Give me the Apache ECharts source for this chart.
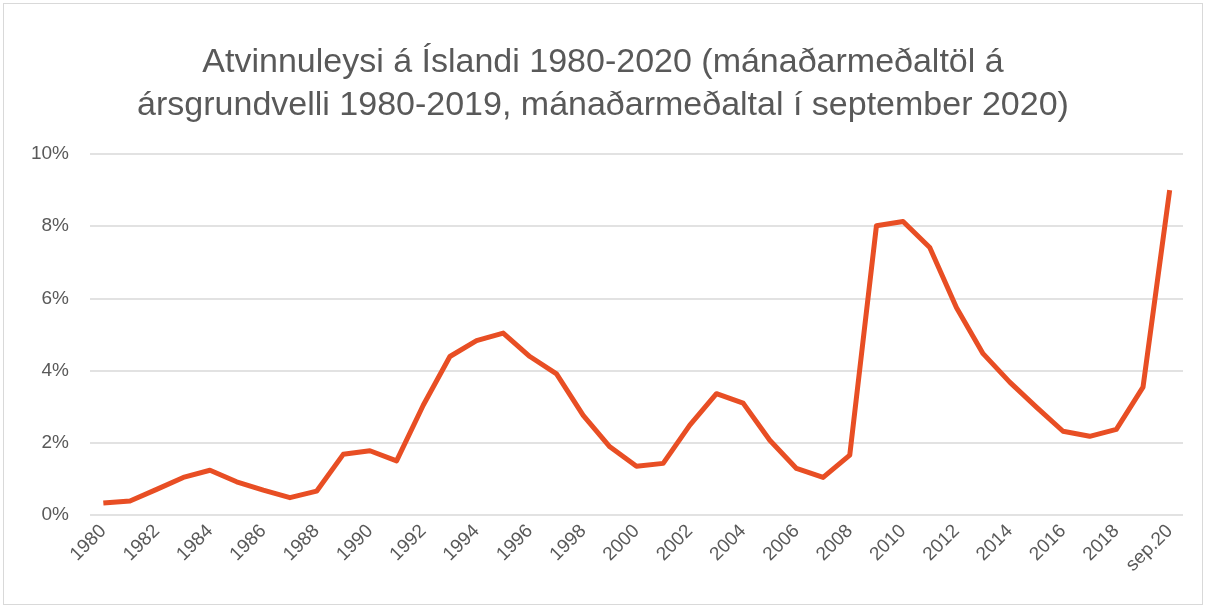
<!DOCTYPE html>
<html>
<head>
<meta charset="utf-8">
<script src="https://cdn.jsdelivr.net/npm/echarts@6/dist/echarts.min.js"></script>
<style>
  html, body { margin: 0; padding: 0; background: #fff; }
  #chart { position: absolute; left: 3px; top: 3px; width: 1200px; height: 602px; border: 1px solid #d9d9d9; box-sizing: border-box; }
</style>
</head>
<body>
<div id="chart"></div>
<script>
// ár og atvinnuleysi (%)
var years = ['1980','1981','1982','1983','1984','1985','1986','1987','1988','1989',
             '1990','1991','1992','1993','1994','1995','1996','1997','1998','1999',
             '2000','2001','2002','2003','2004','2005','2006','2007','2008','2009',
             '2010','2011','2012','2013','2014','2015','2016','2017','2018','2019','sep.20'];
var unemployment = [0.33, 0.39, 0.71, 1.04, 1.24, 0.92, 0.69, 0.48, 0.66, 1.68,
                    1.78, 1.50, 3.04, 4.39, 4.83, 5.04, 4.39, 3.91, 2.76, 1.89,
                    1.35, 1.43, 2.49, 3.36, 3.10, 2.07, 1.29, 1.04, 1.66, 8.01,
                    8.13, 7.41, 5.75, 4.47, 3.68, 2.99, 2.32, 2.18, 2.37, 3.54, 9.00];
var titleText = 'Atvinnuleysi á Íslandi 1980-2020 (mánaðarmeðaltöl á\nársgrundvelli 1980-2019, mánaðarmeðaltal í september 2020)';

var chartView = echarts.init(document.getElementById('chart'));
chartView.setOption({
    animation: false,
    title: {
        text: titleText,
        left: 'center',
        top: 32,
        padding: [5, 0, 5, 22],
        textStyle: { fontFamily: 'Liberation Sans', fontSize: 34, fontWeight: 'normal', color: '#595959', lineHeight: 43 }
    },
    grid: { left: 86, right: 19, top: 150, bottom: 89 },
    xAxis: {
        type: 'category',
        data: years,
        boundaryGap: true,
        axisLine: { show: false },
        axisTick: { show: false },
        axisLabel: { interval: 1, rotate: 45, color: '#595959', fontSize: 19, fontFamily: 'Liberation Sans', margin: 13 }
    },
    yAxis: {
        type: 'value',
        min: 0,
        max: 10,
        interval: 2,
        axisLine: { show: false },
        axisTick: { show: false },
        splitLine: { lineStyle: { color: '#d9d9d9', width: 1.5 } },
        axisLabel: { formatter: '{value}%', color: '#595959', fontSize: 19, fontFamily: 'Liberation Sans', margin: 21 }
    },
    series: [{
        type: 'line',
        data: unemployment,
        symbol: 'none',
        lineStyle: { color: '#E84E24', width: 5, join: 'round' }
    }]
});
</script>
</body>
</html>
